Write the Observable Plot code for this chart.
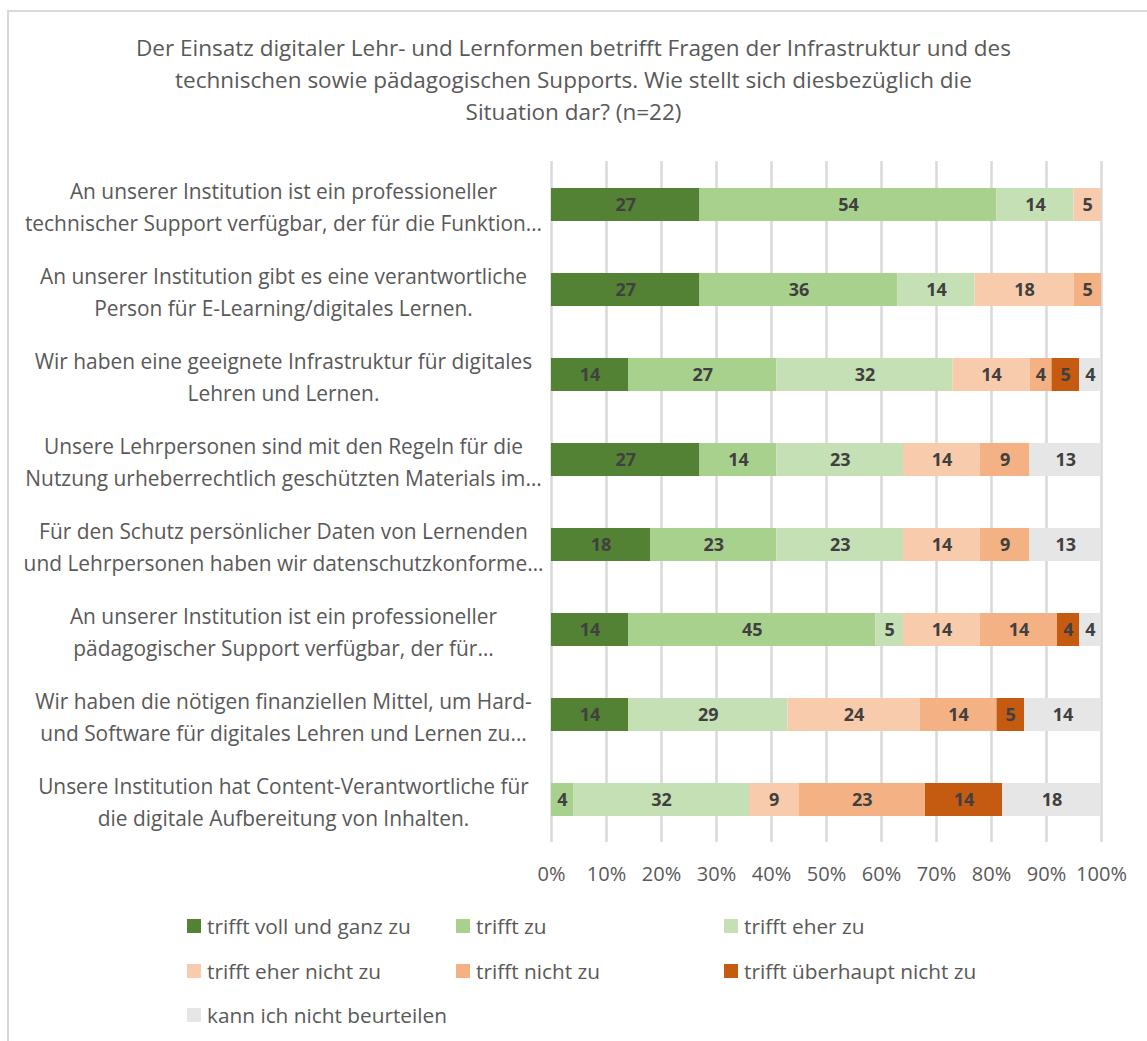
<!DOCTYPE html>
<html>
<head>
<meta charset="utf-8">
<script src="https://cdn.jsdelivr.net/npm/d3@7"></script>
<script src="https://cdn.jsdelivr.net/npm/@observablehq/plot@0.6"></script>
<style>
  html, body { margin: 0; padding: 0; background: #fff; }
  body { width: 1147px; height: 1041px; position: relative; overflow: hidden; font-family: "Open Sans", sans-serif; color: #595959; }
  #frame { position: absolute; left: 7px; top: 10px; width: 1200px; height: 1100px; border-left: 2px solid #D9D9D9; border-top: 2px solid #D9D9D9; }
  #title { position: absolute; left: 0; width: 1147px; top: 32px; text-align: center; font-size: 22.5px; line-height: 32px; color: #595959; }
  #chart { position: absolute; left: 0; top: 140px; }
  .lg { position: absolute; display: flex; align-items: center; font-size: 20.8px; color: #595959; white-space: nowrap; }
  .lg span.sw { display: inline-block; width: 14px; height: 14px; margin-right: 6px; }
</style>
</head>
<body>
<div id="frame"></div>
<div id="title">Der Einsatz digitaler Lehr- und Lernformen betrifft Fragen der Infrastruktur und des<br>technischen sowie pädagogischen Supports. Wie stellt sich diesbezüglich die<br>Situation dar? (n=22)</div>
<div id="chart"></div>
<div id="legend"></div>
<script>
const categories = [
  "An unserer Institution ist ein professioneller\ntechnischer Support verfügbar, der für die Funktion…",
  "An unserer Institution gibt es eine verantwortliche\nPerson für E-Learning/digitales Lernen.",
  "Wir haben eine geeignete Infrastruktur für digitales\nLehren und Lernen.",
  "Unsere Lehrpersonen sind mit den Regeln für die\nNutzung urheberrechtlich geschützten Materials im…",
  "Für den Schutz persönlicher Daten von Lernenden\nund Lehrpersonen haben wir datenschutzkonforme…",
  "An unserer Institution ist ein professioneller\npädagogischer Support verfügbar, der für…",
  "Wir haben die nötigen finanziellen Mittel, um Hard-\nund Software für digitales Lehren und Lernen zu…",
  "Unsere Institution hat Content-Verantwortliche für\ndie digitale Aufbereitung von Inhalten."
];

const seriesNames = [
  "trifft voll und ganz zu",
  "trifft zu",
  "trifft eher zu",
  "trifft eher nicht zu",
  "trifft nicht zu",
  "trifft überhaupt nicht zu",
  "kann ich nicht beurteilen"
];

const seriesColors = ["#548235", "#A9D18E", "#C5E0B4", "#F8CBAD", "#F4B183", "#C55A11", "#E7E6E6"];

const vollUndGanz    = [27, 27, 14, 27, 18, 14, 14, 0];
const triffZu        = [54, 36, 27, 14, 23, 45, 0, 4];
const eherZu         = [14, 14, 32, 23, 23, 5, 29, 32];
const eherNicht      = [5, 18, 14, 14, 14, 14, 24, 9];
const nichtZu        = [0, 5, 4, 9, 9, 14, 14, 23];
const ueberhauptNicht= [0, 0, 5, 0, 0, 4, 5, 14];
const kannNicht      = [0, 0, 4, 13, 13, 4, 14, 18];

const xTicks = [0, 10, 20, 30, 40, 50, 60, 70, 80, 90, 100];

const seriesValues = [vollUndGanz, triffZu, eherZu, eherNicht, nichtZu, ueberhauptNicht, kannNicht];

const data = [];
categories.forEach((c, i) => {
  seriesNames.forEach((s, j) => {
    const v = seriesValues[j][i];
    if (v > 0) data.push({cat: c, series: s, value: v});
  });
});

const chart = Plot.plot({
  width: 1147,
  height: 760,
  marginTop: 21,
  marginBottom: 58,
  marginLeft: 551,
  marginRight: 46,
  style: {fontFamily: "'Open Sans', sans-serif", color: "#595959", background: "transparent", overflow: "visible"},
  x: {domain: [0, 100], axis: null},
  y: {domain: categories, paddingInner: 0.612, paddingOuter: 0.306, axis: null},
  color: {domain: seriesNames, range: seriesColors},
  marks: [
    Plot.ruleX(xTicks, {x: d => d, stroke: "#D9D9D9", strokeWidth: 2.5}),
    Plot.barX(data, Plot.stackX({x: "value", y: "cat", fill: "series", order: seriesNames})),
    Plot.text(data, Plot.stackX({x: "value", y: "cat", z: "series", order: seriesNames, text: d => String(d.value), fill: "#404040", fontWeight: "bold", fontSize: 18})),
    Plot.text(categories, {y: d => d, frameAnchor: "left", dx: -268, textAnchor: "middle", lineHeight: 1.5, fontSize: 20.9, fill: "#595959", text: d => d}),
    Plot.axisX(xTicks, {tickSize: 0, tickPadding: 24, tickFormat: d => d + "%", fontSize: 20, fill: "#595959", label: null})
  ]
});
document.getElementById("chart").appendChild(chart);

// legend
const legendCols = [187, 456, 724];
const legendRows = [926, 971, 1015];
const legend = document.getElementById("legend");
seriesNames.forEach((s, i) => {
  const div = document.createElement("div");
  div.className = "lg";
  div.style.left = legendCols[i % 3] + "px";
  div.style.top = (legendRows[Math.floor(i / 3)] - 15) + "px";
  div.style.height = "30px";
  const sw = document.createElement("span");
  sw.className = "sw";
  sw.style.background = seriesColors[i];
  const tx = document.createElement("span");
  tx.textContent = s;
  div.appendChild(sw);
  div.appendChild(tx);
  legend.appendChild(div);
});
</script>
</body>
</html>
